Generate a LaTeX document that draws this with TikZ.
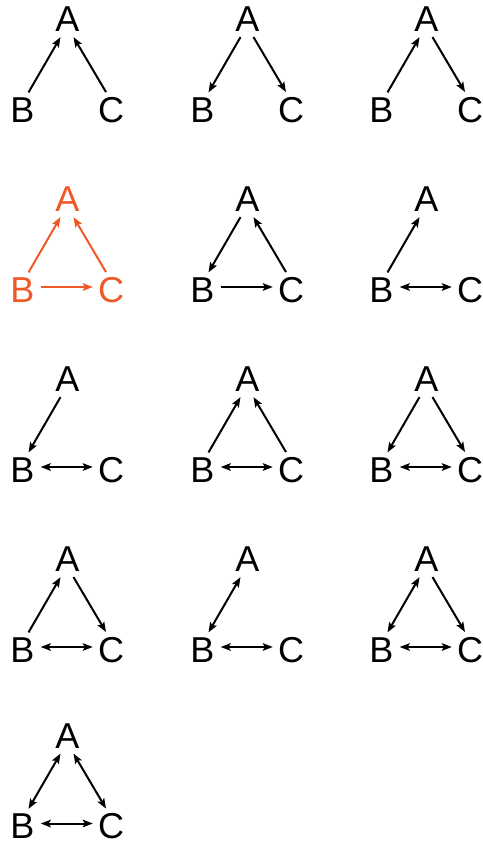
\documentclass[tikz,border=0pt]{standalone}
\usepackage{fontspec}
\setmainfont{Liberation Sans}
\usetikzlibrary{arrows.meta,calc}
\definecolor{motiforange}{RGB}{240,88,40}
\tikzset{
  lab/.style={inner sep=0pt, font=\fontsize{36}{36}\selectfont},
  edge/.style={line width=2pt, >={Stealth[length=10pt,width=7.5pt,inset=2pt]}},
}
\newcommand\triad[4]{%
  \node[lab,#4] (A#1) at (67.5+#2,-19.5-#3) {A};
  \node[lab,#4] (B#1) at (22.5+#2,-110-#3) {B};
  \node[lab,#4] (C#1) at (111+#2,-110-#3) {C};}
\newcommand\edgeAB[2]{\draw[edge,#2] ($(A#1.south)+(-7,-5)$) -- ($(B#1.north)+(6,5)$);}
\newcommand\edgeAC[2]{\draw[edge,#2] ($(A#1.south)+(6,-5)$) -- ($(C#1.north)+(-5,5)$);}
\newcommand\edgeBC[2]{\draw[edge,#2] ($(B#1.east)+(6,3)$) -- ($(C#1.west)+(-5,3)$);}
\begin{document}
\begin{tikzpicture}[x=1pt,y=1pt]
\useasboundingbox (0,0) rectangle (482,-843);
% row 1
\triad{11}{0}{0}{}
\edgeAB{11}{<-}\edgeAC{11}{<-}
\triad{12}{180}{0}{}
\edgeAB{12}{->}\edgeAC{12}{->}
\triad{13}{359}{0}{}
\edgeAB{13}{<-}\edgeAC{13}{->}
% row 2
\triad{21}{0}{180}{motiforange}
\edgeAB{21}{<-,motiforange}\edgeAC{21}{<-,motiforange}\edgeBC{21}{->,motiforange}
\triad{22}{180}{180}{}
\edgeAB{22}{->}\edgeAC{22}{<-}\edgeBC{22}{->}
\triad{23}{359}{180}{}
\edgeAB{23}{<-}\edgeBC{23}{<->}
% row 3
\triad{31}{0}{360}{}
\edgeAB{31}{->}\edgeBC{31}{<->}
\triad{32}{180}{360}{}
\edgeAB{32}{<-}\edgeAC{32}{<-}\edgeBC{32}{<->}
\triad{33}{359}{360}{}
\edgeAB{33}{->}\edgeAC{33}{->}\edgeBC{33}{<->}
% row 4
\triad{41}{0}{540}{}
\edgeAB{41}{<-}\edgeAC{41}{->}\edgeBC{41}{<->}
\triad{42}{180}{540}{}
\edgeAB{42}{<->}\edgeBC{42}{<->}
\triad{43}{359}{540}{}
\edgeAB{43}{<->}\edgeAC{43}{->}\edgeBC{43}{<->}
% row 5
\triad{51}{0}{716.5}{}
\edgeAB{51}{<->}\edgeAC{51}{<->}\edgeBC{51}{<->}
\end{tikzpicture}
\end{document}
